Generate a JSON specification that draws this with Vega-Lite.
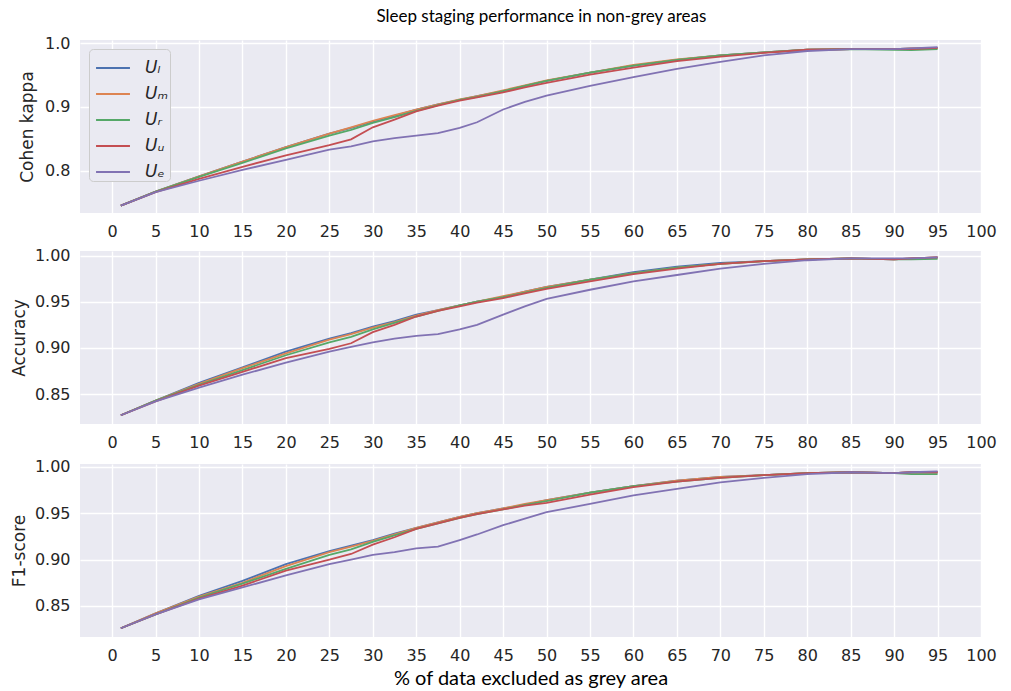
{
"$schema": "https://vega.github.io/schema/vega-lite/v6.json",
"background": "white",
"padding": {"left": 10, "top": 8, "right": 25, "bottom": 0},
"title": {"text": "Sleep staging performance in non-grey areas", "font": "Lato", "fontSize": 17, "fontWeight": "normal", "color": "#000000", "anchor": "middle", "offset": 9, "dx": 38},
"spacing": 8,
"resolve": {"legend": {"color": "independent"}},
"config": {
  "view": {"fill": "#EAEAF2", "stroke": null},
  "axis": {"domain": false, "ticks": false, "gridColor": "#FFFFFF", "gridWidth": 1.4, "labelFont": "DejaVu Sans", "labelFontSize": 16, "labelColor": "#262626", "titleFont": "DejaVu Sans", "titleFontSize": 17, "titleFontWeight": "normal", "titleColor": "#262626", "labelPadding": 10, "labelFlush": false},
  "line": {"strokeWidth": 1.8}
},
"datasets": {
"kappa": [
{"x":1,"s":"L","v":0.745},{"x":1,"s":"M","v":0.745},{"x":1,"s":"R","v":0.745},{"x":1,"s":"U","v":0.745},{"x":1,"s":"E","v":0.745},
{"x":5,"s":"L","v":0.767},{"x":5,"s":"M","v":0.767},{"x":5,"s":"R","v":0.767},{"x":5,"s":"U","v":0.766},{"x":5,"s":"E","v":0.766},
{"x":10,"s":"L","v":0.791},{"x":10,"s":"M","v":0.791},{"x":10,"s":"R","v":0.790},{"x":10,"s":"U","v":0.787},{"x":10,"s":"E","v":0.784},
{"x":15,"s":"L","v":0.814},{"x":15,"s":"M","v":0.814},{"x":15,"s":"R","v":0.812},{"x":15,"s":"U","v":0.806},{"x":15,"s":"E","v":0.801},
{"x":20,"s":"L","v":0.837},{"x":20,"s":"M","v":0.837},{"x":20,"s":"R","v":0.835},{"x":20,"s":"U","v":0.824},{"x":20,"s":"E","v":0.817},
{"x":25,"s":"L","v":0.858},{"x":25,"s":"M","v":0.858},{"x":25,"s":"R","v":0.855},{"x":25,"s":"U","v":0.840},{"x":25,"s":"E","v":0.833},
{"x":27.5,"s":"L","v":0.867},{"x":27.5,"s":"M","v":0.868},{"x":27.5,"s":"R","v":0.864},{"x":27.5,"s":"U","v":0.849},{"x":27.5,"s":"E","v":0.838},
{"x":30,"s":"L","v":0.877},{"x":30,"s":"M","v":0.878},{"x":30,"s":"R","v":0.875},{"x":30,"s":"U","v":0.868},{"x":30,"s":"E","v":0.846},
{"x":32.5,"s":"L","v":0.886},{"x":32.5,"s":"M","v":0.887},{"x":32.5,"s":"R","v":0.884},{"x":32.5,"s":"U","v":0.880},{"x":32.5,"s":"E","v":0.851},
{"x":35,"s":"L","v":0.896},{"x":35,"s":"M","v":0.896},{"x":35,"s":"R","v":0.894},{"x":35,"s":"U","v":0.893},{"x":35,"s":"E","v":0.855},
{"x":37.5,"s":"L","v":0.904},{"x":37.5,"s":"M","v":0.904},{"x":37.5,"s":"R","v":0.903},{"x":37.5,"s":"U","v":0.902},{"x":37.5,"s":"E","v":0.859},
{"x":40,"s":"L","v":0.911},{"x":40,"s":"M","v":0.912},{"x":40,"s":"R","v":0.911},{"x":40,"s":"U","v":0.910},{"x":40,"s":"E","v":0.867},
{"x":42,"s":"L","v":0.917},{"x":42,"s":"M","v":0.917},{"x":42,"s":"R","v":0.916},{"x":42,"s":"U","v":0.915},{"x":42,"s":"E","v":0.876},
{"x":45,"s":"L","v":0.925},{"x":45,"s":"M","v":0.926},{"x":45,"s":"R","v":0.925},{"x":45,"s":"U","v":0.923},{"x":45,"s":"E","v":0.896},
{"x":47.5,"s":"L","v":0.933},{"x":47.5,"s":"M","v":0.934},{"x":47.5,"s":"R","v":0.933},{"x":47.5,"s":"U","v":0.931},{"x":47.5,"s":"E","v":0.908},
{"x":50,"s":"L","v":0.941},{"x":50,"s":"M","v":0.942},{"x":50,"s":"R","v":0.941},{"x":50,"s":"U","v":0.938},{"x":50,"s":"E","v":0.918},
{"x":55,"s":"L","v":0.954},{"x":55,"s":"M","v":0.954},{"x":55,"s":"R","v":0.954},{"x":55,"s":"U","v":0.951},{"x":55,"s":"E","v":0.933},
{"x":60,"s":"L","v":0.965},{"x":60,"s":"M","v":0.966},{"x":60,"s":"R","v":0.965},{"x":60,"s":"U","v":0.962},{"x":60,"s":"E","v":0.947},
{"x":65,"s":"L","v":0.974},{"x":65,"s":"M","v":0.975},{"x":65,"s":"R","v":0.974},{"x":65,"s":"U","v":0.972},{"x":65,"s":"E","v":0.960},
{"x":70,"s":"L","v":0.981},{"x":70,"s":"M","v":0.981},{"x":70,"s":"R","v":0.981},{"x":70,"s":"U","v":0.979},{"x":70,"s":"E","v":0.971},
{"x":75,"s":"L","v":0.986},{"x":75,"s":"M","v":0.986},{"x":75,"s":"R","v":0.986},{"x":75,"s":"U","v":0.985},{"x":75,"s":"E","v":0.981},
{"x":80,"s":"L","v":0.990},{"x":80,"s":"M","v":0.990},{"x":80,"s":"R","v":0.990},{"x":80,"s":"U","v":0.990},{"x":80,"s":"E","v":0.988},
{"x":85,"s":"L","v":0.991},{"x":85,"s":"M","v":0.991},{"x":85,"s":"R","v":0.991},{"x":85,"s":"U","v":0.991},{"x":85,"s":"E","v":0.991},
{"x":90,"s":"L","v":0.991},{"x":90,"s":"M","v":0.991},{"x":90,"s":"R","v":0.990},{"x":90,"s":"U","v":0.991},{"x":90,"s":"E","v":0.991},
{"x":92,"s":"L","v":0.992},{"x":92,"s":"M","v":0.992},{"x":92,"s":"R","v":0.9895},{"x":92,"s":"U","v":0.991},{"x":92,"s":"E","v":0.992},
{"x":95,"s":"L","v":0.993},{"x":95,"s":"M","v":0.993},{"x":95,"s":"R","v":0.991},{"x":95,"s":"U","v":0.993},{"x":95,"s":"E","v":0.994}
],
"acc": [
{"x":1,"s":"L","v":0.827},{"x":1,"s":"M","v":0.827},{"x":1,"s":"R","v":0.827},{"x":1,"s":"U","v":0.827},{"x":1,"s":"E","v":0.827},
{"x":5,"s":"L","v":0.843},{"x":5,"s":"M","v":0.843},{"x":5,"s":"R","v":0.843},{"x":5,"s":"U","v":0.842},{"x":5,"s":"E","v":0.842},
{"x":10,"s":"L","v":0.862},{"x":10,"s":"M","v":0.861},{"x":10,"s":"R","v":0.860},{"x":10,"s":"U","v":0.859},{"x":10,"s":"E","v":0.857},
{"x":15,"s":"L","v":0.879},{"x":15,"s":"M","v":0.878},{"x":15,"s":"R","v":0.876},{"x":15,"s":"U","v":0.874},{"x":15,"s":"E","v":0.871},
{"x":20,"s":"L","v":0.896},{"x":20,"s":"M","v":0.894},{"x":20,"s":"R","v":0.892},{"x":20,"s":"U","v":0.889},{"x":20,"s":"E","v":0.884},
{"x":25,"s":"L","v":0.910},{"x":25,"s":"M","v":0.909},{"x":25,"s":"R","v":0.906},{"x":25,"s":"U","v":0.899},{"x":25,"s":"E","v":0.896},
{"x":27.5,"s":"L","v":0.916},{"x":27.5,"s":"M","v":0.915},{"x":27.5,"s":"R","v":0.912},{"x":27.5,"s":"U","v":0.905},{"x":27.5,"s":"E","v":0.901},
{"x":30,"s":"L","v":0.923},{"x":30,"s":"M","v":0.922},{"x":30,"s":"R","v":0.920},{"x":30,"s":"U","v":0.917},{"x":30,"s":"E","v":0.906},
{"x":32.5,"s":"L","v":0.929},{"x":32.5,"s":"M","v":0.928},{"x":32.5,"s":"R","v":0.927},{"x":32.5,"s":"U","v":0.925},{"x":32.5,"s":"E","v":0.910},
{"x":35,"s":"L","v":0.936},{"x":35,"s":"M","v":0.935},{"x":35,"s":"R","v":0.934},{"x":35,"s":"U","v":0.934},{"x":35,"s":"E","v":0.913},
{"x":37.5,"s":"L","v":0.941},{"x":37.5,"s":"M","v":0.941},{"x":37.5,"s":"R","v":0.940},{"x":37.5,"s":"U","v":0.940},{"x":37.5,"s":"E","v":0.915},
{"x":40,"s":"L","v":0.946},{"x":40,"s":"M","v":0.946},{"x":40,"s":"R","v":0.946},{"x":40,"s":"U","v":0.945},{"x":40,"s":"E","v":0.920},
{"x":42,"s":"L","v":0.950},{"x":42,"s":"M","v":0.950},{"x":42,"s":"R","v":0.950},{"x":42,"s":"U","v":0.949},{"x":42,"s":"E","v":0.925},
{"x":45,"s":"L","v":0.955},{"x":45,"s":"M","v":0.956},{"x":45,"s":"R","v":0.955},{"x":45,"s":"U","v":0.954},{"x":45,"s":"E","v":0.936},
{"x":47.5,"s":"L","v":0.961},{"x":47.5,"s":"M","v":0.961},{"x":47.5,"s":"R","v":0.960},{"x":47.5,"s":"U","v":0.959},{"x":47.5,"s":"E","v":0.945},
{"x":50,"s":"L","v":0.966},{"x":50,"s":"M","v":0.966},{"x":50,"s":"R","v":0.965},{"x":50,"s":"U","v":0.964},{"x":50,"s":"E","v":0.953},
{"x":55,"s":"L","v":0.974},{"x":55,"s":"M","v":0.974},{"x":55,"s":"R","v":0.974},{"x":55,"s":"U","v":0.972},{"x":55,"s":"E","v":0.963},
{"x":60,"s":"L","v":0.982},{"x":60,"s":"M","v":0.981},{"x":60,"s":"R","v":0.981},{"x":60,"s":"U","v":0.980},{"x":60,"s":"E","v":0.972},
{"x":65,"s":"L","v":0.988},{"x":65,"s":"M","v":0.987},{"x":65,"s":"R","v":0.987},{"x":65,"s":"U","v":0.986},{"x":65,"s":"E","v":0.979},
{"x":70,"s":"L","v":0.992},{"x":70,"s":"M","v":0.991},{"x":70,"s":"R","v":0.991},{"x":70,"s":"U","v":0.991},{"x":70,"s":"E","v":0.986},
{"x":75,"s":"L","v":0.994},{"x":75,"s":"M","v":0.994},{"x":75,"s":"R","v":0.994},{"x":75,"s":"U","v":0.994},{"x":75,"s":"E","v":0.991},
{"x":80,"s":"L","v":0.996},{"x":80,"s":"M","v":0.996},{"x":80,"s":"R","v":0.996},{"x":80,"s":"U","v":0.996},{"x":80,"s":"E","v":0.995},
{"x":85,"s":"L","v":0.997},{"x":85,"s":"M","v":0.997},{"x":85,"s":"R","v":0.997},{"x":85,"s":"U","v":0.997},{"x":85,"s":"E","v":0.997},
{"x":90,"s":"L","v":0.996},{"x":90,"s":"M","v":0.996},{"x":90,"s":"R","v":0.996},{"x":90,"s":"U","v":0.996},{"x":90,"s":"E","v":0.997},
{"x":92,"s":"L","v":0.997},{"x":92,"s":"M","v":0.997},{"x":92,"s":"R","v":0.996},{"x":92,"s":"U","v":0.997},{"x":92,"s":"E","v":0.997},
{"x":95,"s":"L","v":0.998},{"x":95,"s":"M","v":0.998},{"x":95,"s":"R","v":0.9965},{"x":95,"s":"U","v":0.998},{"x":95,"s":"E","v":0.998}
],
"f1": [
{"x":1,"s":"L","v":0.826},{"x":1,"s":"M","v":0.826},{"x":1,"s":"R","v":0.826},{"x":1,"s":"U","v":0.826},{"x":1,"s":"E","v":0.826},
{"x":5,"s":"L","v":0.842},{"x":5,"s":"M","v":0.842},{"x":5,"s":"R","v":0.841},{"x":5,"s":"U","v":0.841},{"x":5,"s":"E","v":0.841},
{"x":10,"s":"L","v":0.861},{"x":10,"s":"M","v":0.860},{"x":10,"s":"R","v":0.859},{"x":10,"s":"U","v":0.858},{"x":10,"s":"E","v":0.857},
{"x":15,"s":"L","v":0.877},{"x":15,"s":"M","v":0.875},{"x":15,"s":"R","v":0.874},{"x":15,"s":"U","v":0.872},{"x":15,"s":"E","v":0.870},
{"x":20,"s":"L","v":0.895},{"x":20,"s":"M","v":0.893},{"x":20,"s":"R","v":0.890},{"x":20,"s":"U","v":0.888},{"x":20,"s":"E","v":0.883},
{"x":25,"s":"L","v":0.909},{"x":25,"s":"M","v":0.908},{"x":25,"s":"R","v":0.905},{"x":25,"s":"U","v":0.900},{"x":25,"s":"E","v":0.895},
{"x":27.5,"s":"L","v":0.915},{"x":27.5,"s":"M","v":0.914},{"x":27.5,"s":"R","v":0.911},{"x":27.5,"s":"U","v":0.906},{"x":27.5,"s":"E","v":0.900},
{"x":30,"s":"L","v":0.921},{"x":30,"s":"M","v":0.920},{"x":30,"s":"R","v":0.919},{"x":30,"s":"U","v":0.916},{"x":30,"s":"E","v":0.905},
{"x":32.5,"s":"L","v":0.928},{"x":32.5,"s":"M","v":0.927},{"x":32.5,"s":"R","v":0.926},{"x":32.5,"s":"U","v":0.924},{"x":32.5,"s":"E","v":0.908},
{"x":35,"s":"L","v":0.934},{"x":35,"s":"M","v":0.934},{"x":35,"s":"R","v":0.933},{"x":35,"s":"U","v":0.933},{"x":35,"s":"E","v":0.912},
{"x":37.5,"s":"L","v":0.940},{"x":37.5,"s":"M","v":0.940},{"x":37.5,"s":"R","v":0.939},{"x":37.5,"s":"U","v":0.939},{"x":37.5,"s":"E","v":0.914},
{"x":40,"s":"L","v":0.946},{"x":40,"s":"M","v":0.946},{"x":40,"s":"R","v":0.945},{"x":40,"s":"U","v":0.945},{"x":40,"s":"E","v":0.921},
{"x":42,"s":"L","v":0.950},{"x":42,"s":"M","v":0.950},{"x":42,"s":"R","v":0.949},{"x":42,"s":"U","v":0.949},{"x":42,"s":"E","v":0.927},
{"x":45,"s":"L","v":0.955},{"x":45,"s":"M","v":0.955},{"x":45,"s":"R","v":0.954},{"x":45,"s":"U","v":0.954},{"x":45,"s":"E","v":0.937},
{"x":47.5,"s":"L","v":0.959},{"x":47.5,"s":"M","v":0.960},{"x":47.5,"s":"R","v":0.959},{"x":47.5,"s":"U","v":0.958},{"x":47.5,"s":"E","v":0.944},
{"x":50,"s":"L","v":0.964},{"x":50,"s":"M","v":0.964},{"x":50,"s":"R","v":0.963},{"x":50,"s":"U","v":0.961},{"x":50,"s":"E","v":0.951},
{"x":55,"s":"L","v":0.972},{"x":55,"s":"M","v":0.972},{"x":55,"s":"R","v":0.972},{"x":55,"s":"U","v":0.970},{"x":55,"s":"E","v":0.960},
{"x":60,"s":"L","v":0.979},{"x":60,"s":"M","v":0.979},{"x":60,"s":"R","v":0.979},{"x":60,"s":"U","v":0.978},{"x":60,"s":"E","v":0.969},
{"x":65,"s":"L","v":0.985},{"x":65,"s":"M","v":0.985},{"x":65,"s":"R","v":0.984},{"x":65,"s":"U","v":0.984},{"x":65,"s":"E","v":0.976},
{"x":70,"s":"L","v":0.989},{"x":70,"s":"M","v":0.989},{"x":70,"s":"R","v":0.988},{"x":70,"s":"U","v":0.988},{"x":70,"s":"E","v":0.983},
{"x":75,"s":"L","v":0.991},{"x":75,"s":"M","v":0.991},{"x":75,"s":"R","v":0.991},{"x":75,"s":"U","v":0.991},{"x":75,"s":"E","v":0.988},
{"x":80,"s":"L","v":0.993},{"x":80,"s":"M","v":0.993},{"x":80,"s":"R","v":0.993},{"x":80,"s":"U","v":0.993},{"x":80,"s":"E","v":0.992},
{"x":85,"s":"L","v":0.994},{"x":85,"s":"M","v":0.994},{"x":85,"s":"R","v":0.994},{"x":85,"s":"U","v":0.994},{"x":85,"s":"E","v":0.994},
{"x":90,"s":"L","v":0.993},{"x":90,"s":"M","v":0.993},{"x":90,"s":"R","v":0.993},{"x":90,"s":"U","v":0.993},{"x":90,"s":"E","v":0.993},
{"x":92,"s":"L","v":0.994},{"x":92,"s":"M","v":0.994},{"x":92,"s":"R","v":0.992},{"x":92,"s":"U","v":0.994},{"x":92,"s":"E","v":0.994},
{"x":95,"s":"L","v":0.994},{"x":95,"s":"M","v":0.994},{"x":95,"s":"R","v":0.992},{"x":95,"s":"U","v":0.994},{"x":95,"s":"E","v":0.995}
]
},
"vconcat": [
{
  "width": 901, "height": 173,
  "data": {"name": "kappa"},
  "mark": {"type": "line", "strokeWidth": 1.8},
  "encoding": {
    "x": {"field": "x", "type": "quantitative", "scale": {"domain": [-3.7, 100], "nice": false, "zero": false}, "axis": {"values": [0,5,10,15,20,25,30,35,40,45,50,55,60,65,70,75,80,85,90,95,100], "title": null}},
    "y": {"field": "v", "type": "quantitative", "scale": {"domain": [0.7333, 1.0053], "nice": false, "zero": false}, "axis": {"values": [0.8, 0.9, 1.0], "format": ".1f", "title": "Cohen kappa", "titlePadding": 8}},
    "color": {"field": "s", "type": "nominal", "sort": ["L","M","R","U","E"], "scale": {"domain": ["L","M","R","U","E"], "range": ["#4C72B0","#DD8452","#55A868","#C44E52","#8172B3"]},
      "legend": {"orient": "top-left", "offset": 9, "title": null, "symbolType": "stroke", "symbolSize": 1150, "symbolStrokeWidth": 1.8, "symbolOffset": 5, "labelFont": "DejaVu Sans", "labelFontStyle": "italic", "labelFontSize": 17, "labelColor": "#262626", "labelOffset": 14, "fillColor": "#EAEAF2", "strokeColor": "#CCCCCC", "cornerRadius": 4, "padding": 1, "rowPadding": -7.5,
        "labelExpr": "datum.value == 'L' ? 'Uₗ ' : datum.value == 'M' ? 'Uₘ ' : datum.value == 'R' ? 'Uᵣ ' : datum.value == 'U' ? 'Uᵤ ' : 'Uₑ '"}}
  }
},
{
  "width": 901, "height": 173,
  "data": {"name": "acc"},
  "mark": {"type": "line", "strokeWidth": 1.8},
  "encoding": {
    "x": {"field": "x", "type": "quantitative", "scale": {"domain": [-3.7, 100], "nice": false, "zero": false}, "axis": {"values": [0,5,10,15,20,25,30,35,40,45,50,55,60,65,70,75,80,85,90,95,100], "title": null}},
    "y": {"field": "v", "type": "quantitative", "scale": {"domain": [0.8175, 1.005], "nice": false, "zero": false}, "axis": {"values": [0.85, 0.9, 0.95, 1.0], "format": ".2f", "title": "Accuracy", "titlePadding": 6}},
    "color": {"field": "s", "type": "nominal", "sort": ["L","M","R","U","E"], "scale": {"domain": ["L","M","R","U","E"], "range": ["#4C72B0","#DD8452","#55A868","#C44E52","#8172B3"]}, "legend": null}
  }
},
{
  "width": 901, "height": 173,
  "data": {"name": "f1"},
  "mark": {"type": "line", "strokeWidth": 1.8},
  "encoding": {
    "x": {"field": "x", "type": "quantitative", "scale": {"domain": [-3.7, 100], "nice": false, "zero": false}, "axis": {"values": [0,5,10,15,20,25,30,35,40,45,50,55,60,65,70,75,80,85,90,95,100], "title": "% of data excluded as grey area", "titleFont": "Lato", "titleFontSize": 20, "titleColor": "#000000", "titlePadding": 5}},
    "y": {"field": "v", "type": "quantitative", "scale": {"domain": [0.8166, 1.0029], "nice": false, "zero": false}, "axis": {"values": [0.85, 0.9, 0.95, 1.0], "format": ".2f", "title": "F1-score", "titlePadding": 6}},
    "color": {"field": "s", "type": "nominal", "sort": ["L","M","R","U","E"], "scale": {"domain": ["L","M","R","U","E"], "range": ["#4C72B0","#DD8452","#55A868","#C44E52","#8172B3"]}, "legend": null}
  }
}
]
}
